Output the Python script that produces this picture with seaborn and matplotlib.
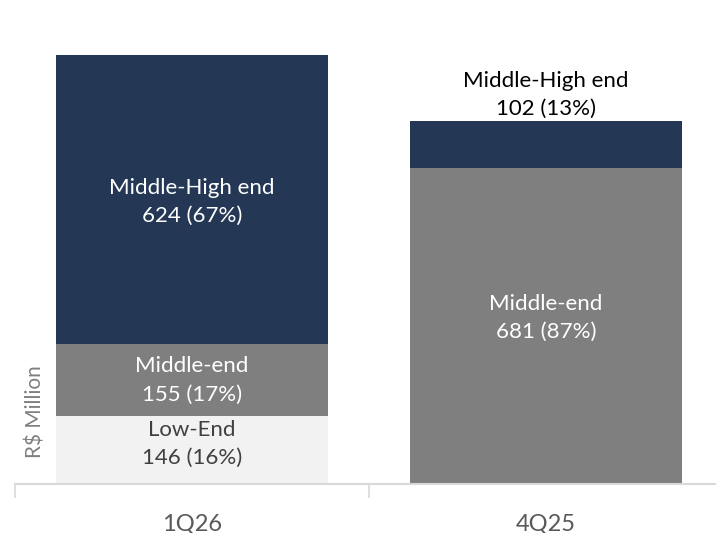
import matplotlib
matplotlib.use("Agg")
import matplotlib.pyplot as plt
import seaborn as sns
import pandas as pd

# values in R$ million
periods = ["1Q26", "4Q25"]
low_end = [146, 0]
middle_end = [155, 681]
middle_high = [624, 102]

seg_names = ["Low-End", "Middle-end", "Middle-High end"]
seg_colors = ["#f2f2f2", "#7f7f7f", "#243856"]
text_colors = ["#404040", "white", "white"]
# small nudges (in pixels, upward) to mimic where the labels sit
nudges = [[6, 0, -2], [0, 8, 0]]

sns.set_theme(style="white")
plt.rcParams["font.family"] = ["Lato", "DejaVu Sans"]

df = pd.DataFrame({"period": periods, "low": low_end, "mid": middle_end, "high": middle_high})
df["c1"] = df["low"]
df["c2"] = df["c1"] + df["mid"]
df["c3"] = df["c2"] + df["high"]
df["total"] = df["c3"]

fig = plt.figure(figsize=(7.16, 5.33), dpi=100)
ax = fig.add_axes([15 / 716, 49 / 533, 708 / 716, 484 / 533])

# draw stacked bars from the top layer down
for col, color in zip(["c3", "c2", "c1"], seg_colors[::-1]):
    sns.barplot(data=df, x="period", y=col, order=periods, color=color,
                width=0.766, saturation=1, ax=ax, linewidth=0)

ax.set_ylim(0, 1044)
ax.set_xlim(-0.5, 1.5)
px = 1044 / 484  # data units per pixel

for i, row in df.iterrows():
    bottoms = [0, row["c1"], row["c2"]]
    vals = [row["low"], row["mid"], row["high"]]
    for k in range(3):
        v = vals[k]
        if v == 0:
            continue
        label = f"{seg_names[k]}\n{v} ({round(100 * v / row['total'])}%)"
        if v < 120:
            # small segment: label sits above the bar
            ax.text(i, bottoms[k] + v + 4, label, ha="center", va="bottom",
                    fontsize=16, color="black", linespacing=1.5, clip_on=False)
        else:
            ax.text(i, bottoms[k] + v / 2 + nudges[i][k] * px, label, ha="center", va="center",
                    fontsize=16, color=text_colors[k], linespacing=1.5)

for s in ["top", "right", "left"]:
    ax.spines[s].set_visible(False)
ax.spines["bottom"].set_color("#d9d9d9")
ax.spines["bottom"].set_linewidth(1.5)

ax.set_yticks([])
ax.set_xlabel("")
ax.set_ylabel("")
ax.set_xticks([-0.5, 0.5, 1.5], minor=True)
ax.tick_params(axis="x", which="minor", length=10, width=1.2, color="#d9d9d9", bottom=True)
ax.tick_params(axis="x", which="major", length=0, pad=21, labelsize=17, labelcolor="#595959")

fig.text(35 / 716, 1 - 412 / 533, "R$ Million", rotation=90, ha="center", va="center",
         fontsize=15, color="#7f7f7f")

fig.savefig("out.png", dpi=100)
